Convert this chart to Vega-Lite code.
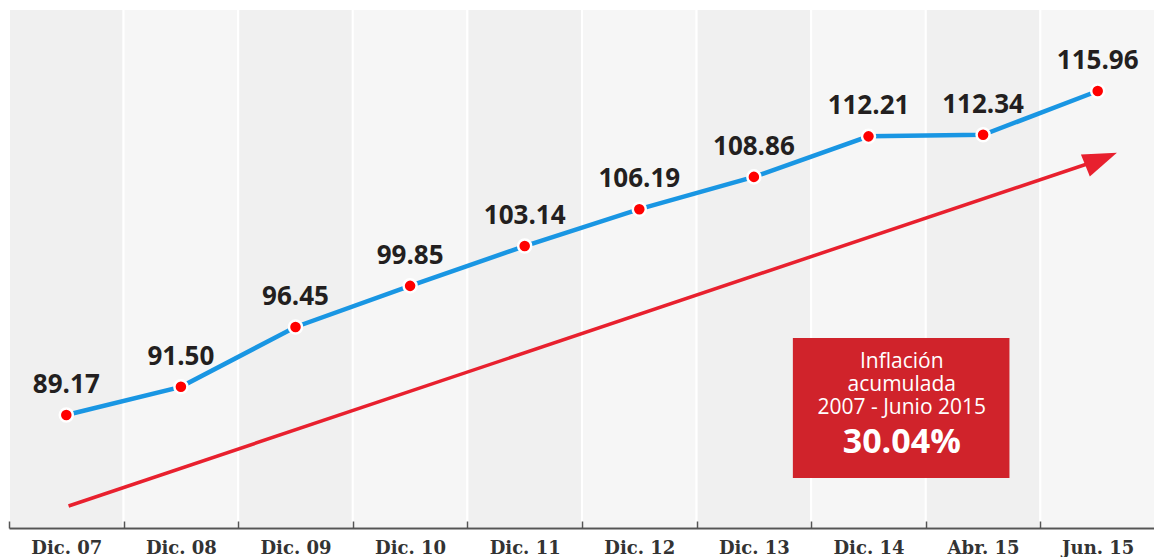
{
  "$schema": "https://vega.github.io/schema/vega-lite/v6.json",
  "width": 1146,
  "height": 519,
  "padding": {"left": 8, "top": 8, "right": 0, "bottom": 0},
  "background": "white",
  "config": {"view": {"stroke": null}},
  "datasets": {
    "ipc": [
      {"periodo": "Dic. 07", "indice": 89.17},
      {"periodo": "Dic. 08", "indice": 91.50},
      {"periodo": "Dic. 09", "indice": 96.45},
      {"periodo": "Dic. 10", "indice": 99.85},
      {"periodo": "Dic. 11", "indice": 103.14},
      {"periodo": "Dic. 12", "indice": 106.19},
      {"periodo": "Dic. 13", "indice": 108.86},
      {"periodo": "Dic. 14", "indice": 112.21},
      {"periodo": "Abr. 15", "indice": 112.34},
      {"periodo": "Jun. 15", "indice": 115.96}
    ],
    "flecha": [
      {"u": 0.52, "v": 81.65},
      {"u": 9.53, "v": 110.32}
    ],
    "caja": [
      {"u": 6.84, "u2": 8.73, "v": 95.54, "v2": 83.96}
    ],
    "textos": [
      {"u": 7.79, "v": 93.06, "texto": "Inflación"},
      {"u": 7.79, "v": 91.15, "texto": "acumulada"},
      {"u": 7.79, "v": 89.25, "texto": "2007 - Junio 2015"}
    ],
    "total": [
      {"u": 7.79, "v": 86.03, "texto": "30.04%"}
    ]
  },
  "layer": [
    {
      "data": {"name": "ipc"},
      "encoding": {
        "x": {
          "field": "periodo",
          "type": "ordinal",
          "sort": null,
          "scale": {"paddingInner": 0, "paddingOuter": 0},
          "axis": {
            "title": null,
            "labelAngle": 0,
            "domainColor": "#555555",
            "domainWidth": 2,
            "tickColor": "#555555",
            "tickWidth": 1.5,
            "tickSize": -7,
            "tickBand": "extent",
            "labelFont": "DejaVu Serif",
            "labelFontWeight": "bold",
            "labelFontSize": 18,
            "labelColor": "#333333",
            "labelPadding": 18
          }
        }
      },
      "layer": [
        {
          "mark": {"type": "rect", "stroke": "white", "strokeWidth": 2},
          "encoding": {
            "color": {
              "condition": {
                "test": "indexof(['Dic. 07','Dic. 09','Dic. 11','Dic. 13','Abr. 15'], datum.periodo) >= 0",
                "value": "#f0f0f0"
              },
              "value": "#f6f6f6"
            }
          }
        },
        {
          "mark": {"type": "line", "color": "#1996e3", "strokeWidth": 4.5},
          "encoding": {
            "y": {"field": "indice", "type": "quantitative", "scale": {"domain": [79.83, 122.74], "zero": false, "nice": false}, "axis": null}
          }
        },
        {
          "mark": {"type": "point", "shape": "circle", "filled": true, "color": "#ff0000", "stroke": "white", "strokeWidth": 2.5, "size": 170, "opacity": 1},
          "encoding": {
            "y": {"field": "indice", "type": "quantitative"}
          }
        },
        {
          "mark": {"type": "text", "font": "Open Sans", "fontWeight": "bold", "fontSize": 26, "color": "#231f20", "baseline": "alphabetic", "dy": -22},
          "encoding": {
            "y": {"field": "indice", "type": "quantitative"},
            "text": {"field": "indice", "type": "quantitative", "format": ".2f"}
          }
        }
      ]
    },
    {
      "layer": [
        {
          "data": {"name": "flecha"},
          "mark": {"type": "line", "color": "#e8202e", "strokeWidth": 3.5},
          "encoding": {
            "x": {"field": "u", "type": "quantitative", "scale": {"domain": [0, 10], "nice": false, "zero": false}, "axis": null},
            "y": {"field": "v", "type": "quantitative"}
          }
        },
        {
          "data": {"name": "flecha"},
          "transform": [{"filter": "datum.u > 5"}],
          "mark": {"type": "point", "shape": "M -1 -0.7 L 1 0 L -1 0.7 Z", "filled": true, "color": "#e8202e", "size": 1156, "angle": -22, "opacity": 1},
          "encoding": {
            "x": {"field": "u", "type": "quantitative"},
            "y": {"field": "v", "type": "quantitative"}
          }
        },
        {
          "data": {"name": "caja"},
          "mark": {"type": "rect", "color": "#d0232b"},
          "encoding": {
            "x": {"field": "u", "type": "quantitative"},
            "x2": {"field": "u2"},
            "y": {"field": "v", "type": "quantitative"},
            "y2": {"field": "v2"}
          }
        },
        {
          "data": {"name": "textos"},
          "mark": {"type": "text", "font": "Open Sans", "fontSize": 21, "color": "white", "baseline": "alphabetic", "align": "center"},
          "encoding": {
            "x": {"field": "u", "type": "quantitative"},
            "y": {"field": "v", "type": "quantitative"},
            "text": {"field": "texto"}
          }
        },
        {
          "data": {"name": "total"},
          "mark": {"type": "text", "font": "Open Sans", "fontWeight": "bold", "fontSize": 34, "color": "white", "baseline": "alphabetic", "align": "center"},
          "encoding": {
            "x": {"field": "u", "type": "quantitative"},
            "y": {"field": "v", "type": "quantitative"},
            "text": {"field": "texto"}
          }
        }
      ]
    }
  ],
  "resolve": {"scale": {"x": "independent"}}
}
